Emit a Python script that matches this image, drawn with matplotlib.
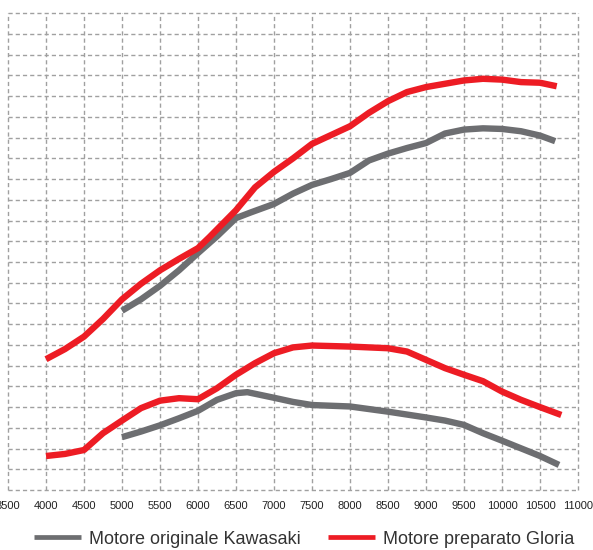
import matplotlib
matplotlib.use("Agg")
import matplotlib.pyplot as plt

plt.rcParams["font.family"] = ["Liberation Sans", "DejaVu Sans"]

# power (upper curves) and torque (lower curves), arbitrary grid units
rpm_orig = [5000, 5250, 5500, 5750, 6000, 6250, 6500, 6700, 7000, 7250, 7500, 7750, 8000,
            8250, 8500, 8750, 9000, 9250, 9500, 9750, 10000, 10250, 10500, 10700]
pow_orig = [8.65, 9.2, 9.85, 10.6, 11.43, 12.24, 13.12, 13.4, 13.8, 14.3, 14.72, 15.0, 15.3,
            15.9, 16.23, 16.5, 16.74, 17.2, 17.39, 17.45, 17.42, 17.31, 17.1, 16.83]
rpm_glor = [4000, 4250, 4500, 4750, 5000, 5250, 5500, 5750, 6000, 6150, 6500, 6750, 7000,
            7250, 7500, 8000, 8250, 8500, 8750, 9000, 9500, 9750, 10000, 10250, 10500, 10720]
pow_glor = [6.31, 6.8, 7.4, 8.25, 9.2, 9.95, 10.6, 11.15, 11.67, 12.2, 13.5, 14.6, 15.35,
            16.0, 16.7, 17.55, 18.2, 18.76, 19.2, 19.44, 19.76, 19.84, 19.8, 19.68, 19.65, 19.48]

rpm_torq_orig = [5000, 5250, 5500, 5750, 6000, 6250, 6500, 6650, 7000, 7250, 7500, 8000,
                 8500, 9000, 9250, 9500, 9750, 10000, 10250, 10500, 10750]
torq_orig = [2.55, 2.82, 3.12, 3.46, 3.82, 4.35, 4.67, 4.72, 4.45, 4.25, 4.1, 4.03,
             3.78, 3.5, 3.35, 3.14, 2.74, 2.38, 2.01, 1.64, 1.21]
rpm_torq_glor = [4000, 4250, 4500, 4750, 5000, 5250, 5500, 5750, 6000, 6250, 6500, 6750, 7000,
                 7250, 7500, 8000, 8500, 8750, 9000, 9250, 9500, 9750, 10000, 10250, 10500, 10780]
torq_glor = [1.64, 1.74, 1.93, 2.74, 3.35, 3.95, 4.31, 4.43, 4.38, 4.91, 5.56, 6.12, 6.6,
             6.88, 6.97, 6.92, 6.84, 6.68, 6.28, 5.88, 5.56, 5.25, 4.75, 4.35, 4.0, 3.62]

xticks = list(range(3500, 11001, 500))
labels = ["Motore originale Kawasaki", "Motore preparato Gloria"]
GRAY = "#6d6e71"
RED = "#ed1c24"

fig = plt.figure(figsize=(5.93, 5.5), dpi=100)
ax = fig.add_axes([8/593, 1-490/550, 570/593, (490-13.3)/550])
ax.set_xlim(3500, 11000)
ax.set_ylim(0, 23)
ax.set_xticks(xticks)
ax.set_xticklabels([str(t) for t in xticks], fontsize=8, color="#222222")
ax.set_yticks(range(0, 24))
ax.set_yticklabels([])
ax.tick_params(length=0, pad=8)
for s in ax.spines.values():
    s.set_visible(False)
ax.grid(True, color="#a0a0a0", linestyle=(0, (3, 2.2)), linewidth=1.0)
for gl in ax.get_xgridlines() + ax.get_ygridlines():
    gl.set_clip_on(False)
ax.set_axisbelow(True)

lw = 4.6
kw = dict(lw=lw, solid_capstyle="butt", solid_joinstyle="round")
ax.plot(rpm_orig, pow_orig, color=GRAY, label=labels[0], **kw)
ax.plot(rpm_torq_orig, torq_orig, color=GRAY, **kw)
ax.plot(rpm_glor, pow_glor, color=RED, label=labels[1], **kw)
ax.plot(rpm_torq_glor, torq_glor, color=RED, **kw)

leg = fig.legend(loc="center", bbox_to_anchor=(0.5135, 1-539/550), ncol=2, frameon=False,
                 fontsize=13, handlelength=2.6, handletextpad=0.45, columnspacing=1.5,
                 labelcolor="#333333")
for ln in leg.get_lines():
    ln.set_linewidth(3.4)

fig.savefig("out.png", dpi=100)
